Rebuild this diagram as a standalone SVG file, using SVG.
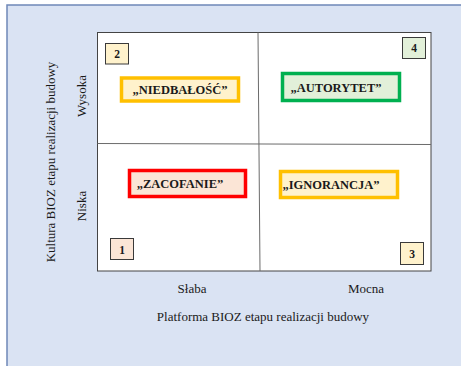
<svg xmlns="http://www.w3.org/2000/svg" width="461" height="366" viewBox="0 0 461 366">
  <style>
    .serif { font-family: "Liberation Serif", "Times New Roman", serif; fill: #1a1a1a; }
    .axis { font-size: 13px; }
    .lbl { font-size: 12.5px; font-weight: bold; text-anchor: middle; }
    .num { font-size: 11.5px; font-weight: bold; text-anchor: middle; }
    .numbox { stroke: #3a3a3a; stroke-width: 1; }
    .tag { stroke-width: 3.5; }
  </style>

  <!-- panel background -->
  <rect x="7" y="5" width="460" height="370" fill="#DAE3F3" stroke="#6F88B8" stroke-width="1.5"/>

  <!-- matrix frame and quadrant dividers -->
  <g id="matrix">
    <rect x="97.5" y="32.5" width="333.5" height="238.5" fill="#FFFFFF" stroke="#444444" stroke-width="1"/>
    <line x1="258" y1="32.5" x2="260" y2="271" stroke="#6b6b6b" stroke-width="1"/>
    <line x1="97.5" y1="143.5" x2="431" y2="144.5" stroke="#6b6b6b" stroke-width="1"/>
  </g>

  <!-- quadrant numbers -->
  <g id="num2">
    <rect class="numbox" x="105.5" y="43.5" width="23" height="20.5" fill="#FFF2CC"/>
    <text class="serif num" x="117" y="58">2</text>
  </g>
  <g id="num4">
    <rect class="numbox" x="402.5" y="37.5" width="23" height="21" fill="#E2F0D9"/>
    <text class="serif num" x="414" y="52">4</text>
  </g>
  <g id="num1">
    <rect class="numbox" x="110.5" y="238.5" width="23" height="21" fill="#FBE5D6"/>
    <text class="serif num" x="122" y="253.5">1</text>
  </g>
  <g id="num3">
    <rect class="numbox" x="400.5" y="242.5" width="23" height="22" fill="#FFF2CC"/>
    <text class="serif num" x="412" y="258">3</text>
  </g>

  <!-- quadrant labels -->
  <g id="niedbalosc">
    <rect class="tag" x="121.5" y="78" width="117" height="23" fill="#FFF2CC" stroke="#FFC000"/>
    <text class="serif lbl" x="180" y="94">„NIEDBAŁOŚĆ”</text>
  </g>
  <g id="autorytet">
    <rect class="tag" x="282.5" y="73.5" width="117" height="27" fill="#E2F0D9" stroke="#00B050"/>
    <text class="serif lbl" x="336" y="91.5">„AUTORYTET”</text>
  </g>
  <g id="zacofanie">
    <rect class="tag" x="129.5" y="170.5" width="116" height="26" fill="#FBE5D6" stroke="#FF0000"/>
    <text class="serif lbl" x="180" y="187.5">„ZACOFANIE”</text>
  </g>
  <g id="ignorancja">
    <rect class="tag" x="280.5" y="171.5" width="117" height="26" fill="#FFF2CC" stroke="#FFC000"/>
    <text class="serif lbl" x="331" y="188.5">„IGNORANCJA”</text>
  </g>

  <!-- axis titles -->
  <g id="y-axis">
    <text class="serif axis" text-anchor="middle" transform="translate(55,162) rotate(-90)">Kultura BIOZ etapu realizacji budowy</text>
    <text class="serif axis" text-anchor="middle" transform="translate(86,96) rotate(-90)">Wysoka</text>
    <text class="serif axis" text-anchor="middle" transform="translate(86,206) rotate(-90)">Niska</text>
  </g>
  <g id="x-axis">
    <text class="serif axis" text-anchor="middle" x="192" y="293">Słaba</text>
    <text class="serif axis" text-anchor="middle" x="366" y="293">Mocna</text>
    <text class="serif axis" text-anchor="middle" x="263" y="321">Platforma BIOZ etapu realizacji budowy</text>
  </g>
</svg>
